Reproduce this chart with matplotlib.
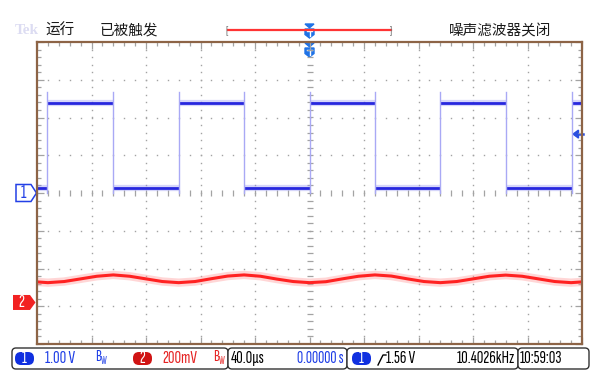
import numpy as np
import matplotlib.pyplot as plt
from matplotlib.patches import FancyBboxPatch, Polygon

plt.rcParams['font.family'] = ['Sofia Sans Extra Condensed', 'DejaVu Sans']
CJK = ['Noto Sans CJK SC', 'DejaVu Sans']

W, H = 592, 371

# scope settings
ch1_volts_div = 1.00
ch2_volts_div = 0.200
time_div_us = 40.0
ch1_offset_div = 0.0
ch2_offset_div = -2.9
trig_level_v = 1.56
trig_freq = '10.4026kHz'
clock = '10:59:03'

# channel 1: square wave edge times (us), starts low
ch1_edges_us = [-192.3, -144.2, -96.1, -48.1, 0.0, 48.1, 96.1, 144.2, 192.3]
ch1_low_v = 0.14
ch1_high_v = 2.38

# channel 2: ripple read every 12 us from -204 us (mV)
ch2_start_us = -204
ch2_step_us = 12
ch2_mv = [111, 105, 111, 125, 139, 146, 139, 125,
          111, 105, 111, 126, 140, 146, 139, 124,
          111, 105, 110, 125, 139, 146, 140, 125,
          111, 105, 111, 125, 139, 145, 139, 125,
          111, 105, 111]

status_top = ['运行', '已被触发', '噪声滤波器关闭']

fig = plt.figure(figsize=(W / 100, H / 100), dpi=100)
fig.patch.set_facecolor('white')

# full-figure layer in pixels for the screen furniture
ui = fig.add_axes([0, 0, 1, 1])
ui.set_xlim(0, W)
ui.set_ylim(H, 0)
ui.axis('off')

# graticule: 10 x 8 divisions
gx0, gx1, gy0, gy1 = 37, 582, 42, 344
ax = fig.add_axes([gx0 / W, 1 - gy1 / H, (gx1 - gx0) / W, (gy1 - gy0) / H])
ax.set_facecolor('none')
ax.set_xlim(-5 * time_div_us, 5 * time_div_us)
ax.set_ylim(-4, 4)


def px_y(div):
    return gy0 + (4 - div) * (gy1 - gy0) / 8


grid_c = '#a3a3a3'
minor_x = np.arange(-200, 200.1, time_div_us / 5)
minor_y = np.arange(-4, 4.01, 0.2)
for i in range(-4, 5):
    if i == 0:
        continue
    ax.plot(np.full(minor_y.size, i * time_div_us), minor_y, ls='none',
            marker='s', ms=1.0, mew=0, color=grid_c)
for j in range(-3, 4):
    if j == 0:
        continue
    ax.plot(minor_x, np.full(minor_x.size, j), ls='none',
            marker='s', ms=1.0, mew=0, color=grid_c)
# centre cross with minor ticks
ax.plot(minor_x, np.zeros(minor_x.size), ls='none', marker='|', ms=4,
        mew=0.9, color=grid_c)
ax.plot(np.zeros(minor_y.size), minor_y, ls='none', marker='_', ms=4,
        mew=0.9, color=grid_c)

ax.set_xticks(np.arange(-200, 201, time_div_us))
ax.set_xticks(minor_x, minor=True)
ax.set_yticks(np.arange(-4, 5, 1))
ax.set_yticks(minor_y, minor=True)
ax.tick_params(which='both', direction='in', top=True, right=True,
               labelbottom=False, labelleft=False, color=grid_c, width=0.9)
ax.tick_params(which='major', length=5)
ax.tick_params(which='minor', length=3)
for s in ax.spines.values():
    s.set_color('#8d6446')
    s.set_linewidth(1.6)

# channel 1 square wave
lo = ch1_low_v / ch1_volts_div + ch1_offset_div
hi = ch1_high_v / ch1_volts_div + ch1_offset_div
bounds = [-200.0] + ch1_edges_us + [200.0]
for i in range(len(bounds) - 1):
    lvl = lo if i % 2 == 0 else hi
    ax.plot([bounds[i], bounds[i + 1]], [lvl, lvl], color='#8a8af2',
            lw=4.5, alpha=0.35, solid_capstyle='butt')
    ax.plot([bounds[i], bounds[i + 1]], [lvl, lvl], color='#2727de',
            lw=2.0, solid_capstyle='butt')
for e in ch1_edges_us:
    ax.plot([e, e], [lo - 0.15, hi + 0.3], color='#a9a9f5', lw=1.0)

# channel 2 ripple
ch2_t = ch2_start_us + ch2_step_us * np.arange(len(ch2_mv))
ch2_div = np.array(ch2_mv) / 1000 / ch2_volts_div + ch2_offset_div
ax.plot(ch2_t, ch2_div, color='#ff9a9a', lw=6, alpha=0.4)
ax.plot(ch2_t, ch2_div, color='#ff2222', lw=2.2)

# trigger level arrow on the right edge
ty = px_y(trig_level_v / ch1_volts_div + ch1_offset_div)
ui.add_patch(Polygon([(573, ty), (578.5, ty - 4), (578.5, ty + 4)],
                     closed=True, color='#2a4fe0'))
ui.plot([577, 583], [ty, ty], color='#2a4fe0', lw=1.8)

# channel ground markers
y1 = px_y(ch1_offset_div)
ui.add_patch(Polygon([(16, y1 - 8.5), (31, y1 - 8.5), (36.5, y1),
                      (31, y1 + 8.5), (16, y1 + 8.5)], closed=True,
                     facecolor='white', edgecolor='#2340e6', lw=1.1))
ui.text(23.5, y1 + 0.5, '1', color='#2340e6', fontsize=14,
        ha='center', va='center')
y2 = px_y(ch2_offset_div)
ui.add_patch(Polygon([(13, y2 - 7.5), (30, y2 - 7.5), (35.5, y2),
                      (30, y2 + 7.5), (13, y2 + 7.5)], closed=True,
                     facecolor='#f22222', edgecolor='none'))
ui.text(21.5, y2 + 0.5, '2', color='white', fontsize=13,
        ha='center', va='center')


# trigger position marks (record view and graticule top)
def trig_mark(x, ytop):
    c = '#1f72e6'
    ui.add_patch(Polygon([(x - 4.5, ytop), (x + 4.5, ytop), (x, ytop + 3.8)],
                         closed=True, color=c))
    ui.add_patch(Polygon([(x - 4.5, ytop + 5), (x + 4.5, ytop + 5),
                          (x + 4.5, ytop + 10.5), (x, ytop + 14),
                          (x - 4.5, ytop + 10.5)], closed=True, color=c))
    ui.plot([x - 2.2, x + 2.2], [ytop + 7.3, ytop + 7.3], color='white', lw=1)
    ui.plot([x, x], [ytop + 7.3, ytop + 11.5], color='white', lw=1)


tx = gx0 + (gx1 - gx0) / 2
trig_mark(tx, 24)
trig_mark(tx, 43)

# top status line
ui.text(15, 31, 'Tek', color='#dcdcf2', fontsize=11, family='Liberation Serif',
        fontweight='bold', va='center')
ui.text(45, 31, status_top[0], color='#1a1a1a', fontsize=10.5,
        family=CJK, va='center')
ui.text(100, 31, status_top[1], color='#1a1a1a', fontsize=10.5,
        family=CJK, va='center')
ui.text(449, 31, status_top[2], color='#1a1a1a', fontsize=10.5,
        family=CJK, va='center')
ui.plot([228, 391], [30, 30], color='#ff3333', lw=1.6)
ui.text(225, 30, '[', color='#777777', fontsize=9, va='center')
ui.text(390, 30, ']', color='#777777', fontsize=9, va='center')

# bottom readouts
for bx0, bx1 in [(12, 228), (228, 347), (347, 518), (518, 589)]:
    ui.add_patch(FancyBboxPatch((bx0, 348), bx1 - bx0, 21,
                                boxstyle='round,pad=0,rounding_size=4',
                                facecolor='white', edgecolor='#333333', lw=1))


def badge(x, label, color):
    ui.add_patch(FancyBboxPatch((x, 352), 19, 13,
                                boxstyle='round,pad=0,rounding_size=6',
                                facecolor=color, edgecolor='none'))
    ui.text(x + 9.5, 358.6, label, color='white', fontsize=12.5,
            ha='center', va='center')


by = 358.3
fs = 13
blue, red = '#1d3de6', '#e52222'
badge(15, '1', '#1030e0')
ui.text(45, by, f'{ch1_volts_div:.2f} V', color=blue, fontsize=fs, va='center')
ui.text(95, by - 1, 'B', color=blue, fontsize=12, va='center')
ui.text(101, by + 2.5, 'W', color=blue, fontsize=8, va='center')
badge(133, '2', '#d01414')
ui.text(162, by, f'{ch2_volts_div * 1000:.0f}mV', color=red, fontsize=fs,
        va='center')
ui.text(213, by - 1, 'B', color=red, fontsize=12, va='center')
ui.text(219, by + 2.5, 'W', color=red, fontsize=8, va='center')
ui.text(231, by, f'{time_div_us:.1f}µs', color='black', fontsize=fs,
        va='center')
ui.text(344, by, '0.00000 s', color=blue, fontsize=12.5, va='center',
        ha='right')
badge(352, '1', '#1030e0')
ui.plot([378, 383, 386], [365, 355, 355], color='black', lw=1)
ui.text(386, by, f'{trig_level_v:.2f} V', color='black', fontsize=fs,
        va='center')
ui.text(515, by, trig_freq, color='black', fontsize=fs, va='center',
        ha='right')
ui.text(520, by, clock, color='black', fontsize=fs, va='center')

fig.savefig('out.png', dpi=100, facecolor='white')
